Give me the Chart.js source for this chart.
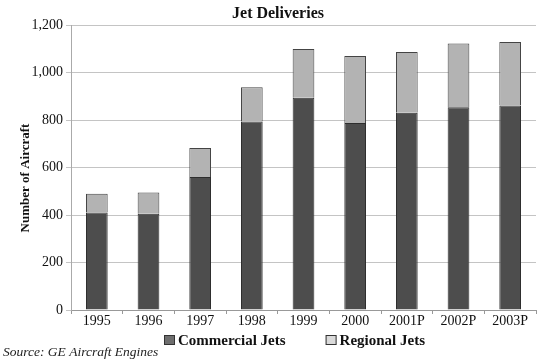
<!DOCTYPE html>
<html>
<head>
<meta charset="utf-8">
<script src="https://cdn.jsdelivr.net/npm/chart.js@4/dist/chart.umd.min.js"></script>
<style>
  body { margin: 0; background: #fff; }
  #wrap { width: 537px; height: 360px; }
</style>
</head>
<body>
<div id="wrap"><canvas id="canvas" width="537" height="360"></canvas></div>
<script>
// Jet deliveries -------------------------------------------------
var years = ['1995', '1996', '1997', '1998', '1999', '2000', '2001P', '2002P', '2003P'];
var commercialJets = [411, 405, 560, 794, 894, 787, 831, 854, 861];
var regionalJets = [78, 90, 122, 144, 205, 282, 255, 268, 267];
var yTicks = [0, 200, 400, 600, 800, 1000, 1200];

var serif = '"Liberation Serif", "Times New Roman", serif';

// titles, legend and source are drawn by hand to sit where the original puts them
var decor = {
  id: 'decor',
  afterDraw: function(chart) {
    var c = chart.ctx;
    c.save();
    c.fillStyle = '#111';
    c.textBaseline = 'middle';

    c.font = 'bold 16px ' + serif;
    c.textAlign = 'center';
    c.fillText('Jet Deliveries', 278, 14);

    c.save();
    c.translate(26, 178);
    c.rotate(-Math.PI / 2);
    c.font = 'bold 13px ' + serif;
    c.fillText('Number of Aircraft', 0, 0);
    c.restore();

    // legend
    var legendColors = ['#6e6e6e', '#dadada'];
    var x = 164;
    c.font = 'bold 15px ' + serif;
    c.textAlign = 'left';
    chart.data.datasets.forEach(function(ds, i) {
      c.fillStyle = legendColors[i];
      c.fillRect(x, 335, 11, 10);
      c.strokeStyle = '#333';
      c.lineWidth = 1;
      c.strokeRect(x + 0.5, 335.5, 10, 9);
      c.fillStyle = '#111';
      c.fillText(ds.label, x + 14, 341);
      x += 14 + c.measureText(ds.label).width + 40;
    });

    c.font = 'italic 13.5px ' + serif;
    c.fillStyle = '#222';
    c.fillText('Source: GE Aircraft Engines', 3, 352);
    c.restore();
  }
};

var ctx = document.getElementById('canvas').getContext('2d');

var myChart = new Chart(ctx, {
  type: 'bar',
  data: {
    labels: years,
    datasets: [{
      label: 'Commercial Jets',
      data: commercialJets,
      backgroundColor: '#4d4d4d',
      borderColor: '#2e2e2e',
      borderWidth: 1
    }, {
      label: 'Regional Jets',
      data: regionalJets,
      backgroundColor: '#b3b3b3',
      borderColor: '#444',
      borderWidth: 1
    }]
  },
  options: {
    responsive: false,
    animation: false,
    layout: { padding: { top: 25, right: 1, left: 0, bottom: 0 } },
    datasets: { bar: { categoryPercentage: 1, barPercentage: 0.42 } },
    plugins: {
      legend: { display: false },
      title: { display: false },
      tooltip: { enabled: false }
    },
    scales: {
      x: {
        stacked: true,
        afterFit: function(s) { s.height = 50; },
        grid: { drawOnChartArea: false, tickLength: 4, color: '#999', offset: true },
        border: { color: '#999' },
        ticks: { color: '#111', padding: -1, font: { family: serif, size: 14 } }
      },
      y: {
        stacked: true,
        min: 0,
        max: 1200,
        afterFit: function(s) { s.width = 71; },
        afterBuildTicks: function(s) { s.ticks = yTicks.map(function(v) { return { value: v }; }); },
        grid: { color: '#c4c4c4', tickLength: 5 },
        border: { color: '#aaa' },
        ticks: {
          color: '#111',
          padding: 3,
          font: { family: serif, size: 14 },
          callback: function(v) { return v.toLocaleString('en-US'); }
        }
      }
    }
  },
  plugins: [decor]
});
</script>
</body>
</html>
